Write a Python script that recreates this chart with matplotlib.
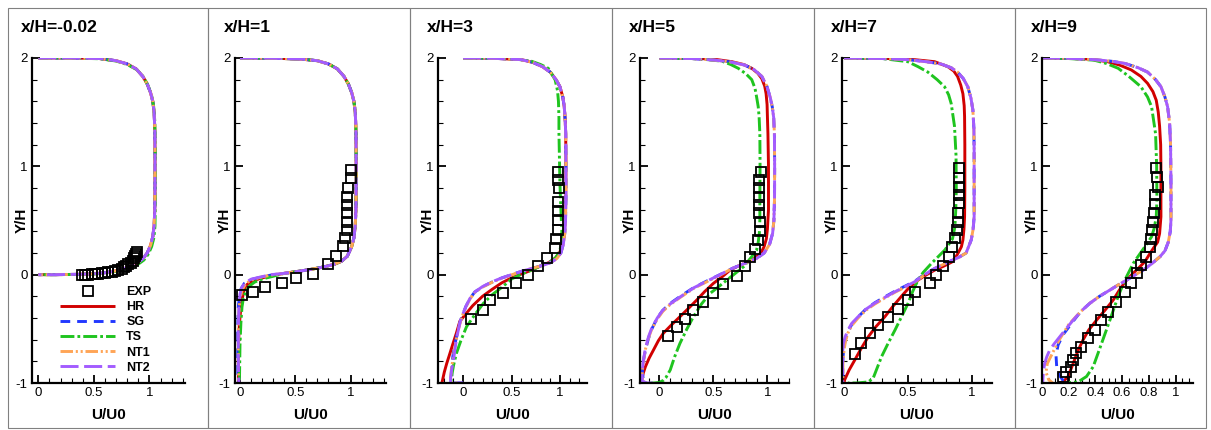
import numpy as np
import matplotlib
matplotlib.use("Agg")
import matplotlib.pyplot as plt
from matplotlib.ticker import MultipleLocator, FuncFormatter

plt.rcParams['font.family'] = ['Liberation Sans', 'DejaVu Sans']
plt.rcParams['lines.scale_dashes'] = False
plt.rcParams['axes.unicode_minus'] = False

titles = ['x/H=-0.02', 'x/H=1', 'x/H=3', 'x/H=5', 'x/H=7', 'x/H=9']
models = ['HR', 'SG', 'TS', 'NT1', 'NT2']

# ---- x/H=-0.02 : (U/U0, Y/H) points, all models nearly identical ----
s1_base = [(0, 2.0), (0.3, 2.0), (0.55, 1.995), (0.7, 1.975), (0.8, 1.945), (0.88, 1.9),
           (0.94, 1.83), (0.98, 1.76), (1.01, 1.68), (1.03, 1.6), (1.042, 1.5), (1.048, 1.35),
           (1.05, 1.1), (1.05, 0.8), (1.048, 0.6), (1.042, 0.45), (1.03, 0.35), (1.01, 0.27),
           (0.98, 0.2), (0.94, 0.145), (0.88, 0.1), (0.8, 0.065), (0.7, 0.035), (0.6, 0.018),
           (0.5, 0.008), (0.35, 0.003), (0.15, 0.0), (0.0, 0.0)]
s1_ts = [(0, 2.0), (0.3, 2.0), (0.55, 1.993), (0.7, 1.972), (0.8, 1.94), (0.89, 1.89),
         (0.95, 1.82), (0.99, 1.74), (1.02, 1.65), (1.038, 1.55), (1.048, 1.42), (1.052, 1.2),
         (1.052, 0.8), (1.052, 0.6), (1.05, 0.45), (1.04, 0.34), (1.02, 0.26), (0.99, 0.19),
         (0.95, 0.135), (0.89, 0.09), (0.8, 0.058), (0.7, 0.03), (0.6, 0.015), (0.5, 0.006),
         (0.35, 0.002), (0.15, 0.0), (0.0, 0.0)]
s1_exp_u = [0.39, 0.42, 0.45, 0.48, 0.51, 0.54, 0.57, 0.60, 0.63, 0.66, 0.69, 0.72, 0.75,
            0.77, 0.79, 0.81, 0.83, 0.85, 0.86, 0.87, 0.88, 0.89]
s1_exp_y = [0.0, 0.0, 0.0, 0.002, 0.005, 0.008, 0.012, 0.016, 0.02, 0.027, 0.035, 0.045,
            0.055, 0.068, 0.08, 0.095, 0.11, 0.13, 0.15, 0.17, 0.19, 0.21]

# ---- x/H=1 ----
s2_top = [(0, 2.0), (0.3, 1.998), (0.55, 1.99), (0.7, 1.975), (0.8, 1.945), (0.88, 1.9),
          (0.94, 1.83), (0.98, 1.76), (1.01, 1.68), (1.03, 1.6), (1.042, 1.5), (1.048, 1.35),
          (1.05, 1.1), (1.05, 0.8), (1.048, 0.6), (1.042, 0.45), (1.03, 0.34), (1.01, 0.26),
          (0.97, 0.17), (0.92, 0.125), (0.85, 0.095), (0.75, 0.07), (0.62, 0.045), (0.5, 0.027),
          (0.4, 0.012)]
s2_hr = s2_top + [(0.3, -0.005), (0.22, -0.025), (0.15, -0.045), (0.1, -0.065), (0.065, -0.09),
                  (0.045, -0.12), (0.03, -0.17), (0.015, -0.26), (0.006, -0.33), (-0.005, -0.45),
                  (-0.012, -0.6), (-0.015, -0.8), (-0.012, -1.0)]
s2_sg = s2_top + [(0.3, 0.0), (0.2, -0.02), (0.1, -0.045), (0.04, -0.08), (0.01, -0.13),
                  (-0.005, -0.2), (-0.015, -0.3), (-0.02, -0.5), (-0.02, -0.8), (-0.018, -1.0)]
s2_ts = s2_top + [(0.3, -0.015), (0.2, -0.04), (0.13, -0.07), (0.08, -0.11), (0.05, -0.16),
                  (0.03, -0.22), (0.018, -0.3), (0.008, -0.45), (0.0, -0.65), (-0.005, -1.0)]
s2_nt1 = s2_top + [(0.3, 0.0), (0.2, -0.02), (0.1, -0.05), (0.05, -0.085), (0.02, -0.14),
                   (0.0, -0.22), (-0.01, -0.35), (-0.015, -0.55), (-0.015, -0.8), (-0.012, -1.0)]
s2_nt2 = s2_top + [(0.3, 0.002), (0.2, -0.018), (0.1, -0.042), (0.045, -0.075), (0.015, -0.12),
                   (0.0, -0.18), (-0.01, -0.3), (-0.015, -0.5), (-0.015, -0.8), (-0.01, -1.0)]
s2_exp_u = [1.0, 1.0, 0.98, 0.97, 0.97, 0.97, 0.97, 0.97, 0.95, 0.93, 0.87, 0.8, 0.66,
            0.51, 0.38, 0.23, 0.12, 0.02]
s2_exp_y = [0.966, 0.89, 0.797, 0.72, 0.643, 0.566, 0.489, 0.412, 0.336, 0.26, 0.17, 0.095,
            0.003, -0.034, -0.074, -0.117, -0.157, -0.19]

# ---- x/H=3 ----
s3_top = [(0, 2.0), (0.3, 1.998), (0.6, 1.985), (0.72, 1.96), (0.82, 1.92), (0.9, 1.87),
          (0.96, 1.8), (1.0, 1.735), (1.03, 1.64), (1.045, 1.55), (1.055, 1.42), (1.06, 1.3),
          (1.062, 1.0), (1.062, 0.7), (1.058, 0.5), (1.05, 0.38), (1.035, 0.28), (1.01, 0.2),
          (0.97, 0.15), (0.9, 0.11), (0.8, 0.08), (0.7, 0.055), (0.6, 0.03)]
s3_hr = [(0, 2.0), (0.3, 1.998), (0.6, 1.985), (0.72, 1.96), (0.82, 1.92), (0.9, 1.87),
         (0.96, 1.8), (1.0, 1.735), (1.03, 1.64), (1.045, 1.55), (1.055, 1.42), (1.06, 1.3),
         (1.062, 1.0), (1.06, 0.7), (1.055, 0.5), (1.045, 0.38), (1.03, 0.29), (1.0, 0.21),
         (0.95, 0.15), (0.88, 0.11), (0.8, 0.08), (0.71, 0.043), (0.6, 0.005), (0.5, -0.03),
         (0.4, -0.075), (0.3, -0.135), (0.2, -0.2), (0.1, -0.285), (0.03, -0.36),
         (-0.034, -0.43), (-0.07, -0.54), (-0.11, -0.65), (-0.145, -0.75), (-0.17, -0.82),
         (-0.195, -0.9), (-0.217, -0.99), (-0.22, -1.0)]
s3_sg = s3_top + [(0.5, 0.0), (0.4, -0.03), (0.3, -0.068), (0.2, -0.112), (0.12, -0.16),
                  (0.07, -0.22), (0.03, -0.29), (0.0, -0.355), (-0.03, -0.43), (-0.055, -0.52),
                  (-0.08, -0.62), (-0.1, -0.72), (-0.118, -0.82), (-0.12, -0.9), (-0.115, -0.96),
                  (-0.1, -1.0), (0.0, -1.0)]
s3_ts = [(0, 2.0), (0.3, 1.998), (0.55, 1.99), (0.707, 1.97), (0.8, 1.94), (0.88, 1.905),
         (0.95, 1.8), (0.975, 1.7), (0.985, 1.6), (0.99, 1.45), (0.99, 1.31), (1.0, 0.85),
         (1.01, 0.6), (1.02, 0.4), (1.015, 0.3), (1.0, 0.22), (0.96, 0.16), (0.9, 0.12),
         (0.8, 0.08), (0.7, 0.04), (0.62, 0.012), (0.5, -0.04), (0.41, -0.11), (0.3, -0.185),
         (0.21, -0.264), (0.12, -0.37), (0.035, -0.48), (-0.02, -0.6), (-0.07, -0.727),
         (-0.1, -0.84), (-0.12, -0.94), (-0.128, -1.0)]
s3_nt1 = s3_top + [(0.5, -0.002), (0.4, -0.033), (0.3, -0.07), (0.2, -0.115), (0.12, -0.165),
                   (0.07, -0.225), (0.03, -0.295), (0.0, -0.36), (-0.03, -0.44), (-0.055, -0.53),
                   (-0.08, -0.64), (-0.1, -0.75), (-0.12, -0.86), (-0.13, -0.95), (-0.12, -1.0),
                   (-0.02, -1.0)]
s3_nt2 = s3_top + [(0.5, 0.0), (0.4, -0.03), (0.3, -0.065), (0.2, -0.11), (0.12, -0.16),
                   (0.07, -0.22), (0.03, -0.29), (0.0, -0.357), (-0.03, -0.43), (-0.05, -0.51),
                   (-0.07, -0.6), (-0.086, -0.695), (-0.1, -0.79), (-0.12, -0.88), (-0.13, -0.95),
                   (-0.13, -0.99), (-0.06, -1.0), (0.0, -1.0)]
s3_exp_u = [0.976, 0.983, 0.99, 0.985, 0.985, 0.985, 0.985, 0.955, 0.945, 0.87, 0.77, 0.67,
            0.548, 0.413, 0.28, 0.204, 0.083]
s3_exp_y = [0.95, 0.874, 0.797, 0.674, 0.59, 0.505, 0.412, 0.326, 0.243, 0.15, 0.077, 0.0,
            -0.08, -0.169, -0.234, -0.326, -0.41]

# ---- x/H=5 ----
s5_top = [(0, 2.0), (0.3, 1.995), (0.515, 1.98), (0.65, 1.965), (0.79, 1.935), (0.88, 1.89),
          (0.948, 1.83), (0.995, 1.74), (1.025, 1.64), (1.045, 1.55), (1.058, 1.45),
          (1.065, 1.3), (1.067, 1.0), (1.066, 0.7), (1.06, 0.5), (1.048, 0.38), (1.02, 0.28),
          (0.97, 0.2), (0.9, 0.15), (0.79, 0.105), (0.68, 0.06)]
s5_hr = [(0, 2.0), (0.3, 1.997), (0.5, 1.99), (0.67, 1.966), (0.78, 1.94), (0.855, 1.905),
         (0.91, 1.86), (0.948, 1.81), (0.975, 1.74), (0.988, 1.67), (0.997, 1.57), (1.0, 1.46),
         (1.005, 1.3), (1.01, 1.0), (1.01, 0.6), (1.0, 0.42), (0.99, 0.33), (0.97, 0.26),
         (0.94, 0.2), (0.88, 0.15), (0.8, 0.11), (0.72, 0.075), (0.655, 0.043), (0.58, -0.02),
         (0.5, -0.08), (0.42, -0.155), (0.346, -0.234), (0.27, -0.31), (0.19, -0.388),
         (0.11, -0.465), (0.037, -0.54), (-0.01, -0.61), (-0.055, -0.695), (-0.095, -0.77),
         (-0.13, -0.85), (-0.15, -0.91), (-0.163, -0.97), (-0.165, -1.0)]
s5_sg = s5_top + [(0.56, 0.0), (0.44, -0.058), (0.32, -0.118), (0.2, -0.195), (0.1, -0.265),
                  (0.03, -0.33), (-0.02, -0.4), (-0.07, -0.5), (-0.105, -0.6), (-0.13, -0.7),
                  (-0.15, -0.8), (-0.158, -0.9), (-0.15, -0.97), (-0.12, -1.0)]
s5_ts = [(0, 2.0), (0.3, 1.995), (0.45, 1.985), (0.58, 1.97), (0.66, 1.94), (0.73, 1.905),
         (0.8, 1.855), (0.855, 1.8), (0.885, 1.72), (0.9, 1.64), (0.915, 1.55), (0.923, 1.46),
         (0.93, 1.3), (0.932, 1.0), (0.93, 0.69), (0.93, 0.5), (0.925, 0.38), (0.915, 0.3),
         (0.9, 0.227), (0.855, 0.166), (0.78, 0.074), (0.7, 0.01), (0.624, -0.05),
         (0.55, -0.11), (0.47, -0.172), (0.39, -0.27), (0.315, -0.388), (0.25, -0.51),
         (0.19, -0.634), (0.14, -0.76), (0.1, -0.88), (0.06, -0.95), (0.037, -0.975),
         (0.0, -0.995), (-0.05, -1.0), (-0.17, -1.0)]
s5_nt1 = s5_top + [(0.56, -0.005), (0.44, -0.065), (0.32, -0.125), (0.2, -0.205), (0.1, -0.275),
                   (0.03, -0.34), (-0.02, -0.41), (-0.07, -0.5), (-0.1, -0.58), (-0.13, -0.69),
                   (-0.15, -0.81), (-0.16, -0.91), (-0.16, -0.98), (-0.13, -1.0)]
s5_nt2 = s5_top + [(0.56, 0.0), (0.44, -0.06), (0.32, -0.12), (0.2, -0.2), (0.1, -0.27),
                   (0.03, -0.33), (-0.02, -0.4), (-0.07, -0.49), (-0.1, -0.57), (-0.13, -0.68),
                   (-0.15, -0.8), (-0.16, -0.9), (-0.16, -0.98), (-0.12, -1.0), (-0.05, -1.0)]
s5_exp_u = [0.942, 0.925, 0.925, 0.925, 0.925, 0.925, 0.932, 0.932, 0.91, 0.886, 0.84, 0.794,
            0.715, 0.593, 0.494, 0.408, 0.315, 0.238, 0.16, 0.077]
s5_exp_y = [0.95, 0.874, 0.797, 0.72, 0.643, 0.566, 0.489, 0.406, 0.32, 0.234, 0.16, 0.08,
            -0.015, -0.09, -0.17, -0.25, -0.326, -0.412, -0.486, -0.566]

# ---- x/H=7 ----
s7_top = [(0, 2.0), (0.3, 1.995), (0.5, 1.985), (0.65, 1.965), (0.76, 1.945), (0.84, 1.91),
          (0.89, 1.87), (0.935, 1.81), (0.97, 1.735), (0.995, 1.63), (1.01, 1.52),
          (1.018, 1.35), (1.02, 1.15), (1.02, 0.8), (1.02, 0.535), (1.012, 0.42),
          (0.997, 0.32), (0.957, 0.2), (0.9, 0.16), (0.843, 0.13), (0.78, 0.095), (0.712, 0.058)]
s7_hr = [(0, 2.0), (0.3, 1.997), (0.55, 1.985), (0.71, 1.966), (0.814, 1.92), (0.86, 1.88),
         (0.89, 1.83), (0.915, 1.75), (0.932, 1.67), (0.942, 1.56), (0.945, 1.46),
         (0.947, 1.2), (0.947, 0.8), (0.945, 0.535), (0.94, 0.42), (0.932, 0.32), (0.92, 0.258),
         (0.9, 0.212), (0.87, 0.15), (0.843, 0.115), (0.78, 0.078), (0.712, 0.043),
         (0.64, -0.005), (0.58, -0.05), (0.51, -0.12), (0.45, -0.2), (0.385, -0.29),
         (0.32, -0.388), (0.25, -0.48), (0.19, -0.573), (0.135, -0.68), (0.084, -0.788),
         (0.04, -0.88), (0.005, -0.97), (0.0, -1.0)]
s7_sg = s7_top + [(0.63, 0.002), (0.555, -0.06), (0.48, -0.105), (0.4, -0.152), (0.32, -0.205),
                  (0.24, -0.26), (0.17, -0.32), (0.11, -0.39), (0.06, -0.46), (0.03, -0.53),
                  (0.01, -0.6), (-0.002, -0.68), (-0.008, -0.76), (-0.01, -0.88), (-0.01, -1.0)]
s7_ts = [(0, 2.0), (0.3, 1.995), (0.5, 1.966), (0.58, 1.92), (0.657, 1.87), (0.73, 1.8),
         (0.788, 1.735), (0.82, 1.66), (0.84, 1.58), (0.866, 1.37), (0.878, 1.1), (0.88, 0.8),
         (0.876, 0.6), (0.869, 0.44), (0.85, 0.33), (0.79, 0.227), (0.686, 0.105),
         (0.62, 0.02), (0.58, -0.05), (0.54, -0.15), (0.502, -0.264), (0.45, -0.39),
         (0.4, -0.51), (0.347, -0.63), (0.294, -0.757), (0.26, -0.86), (0.228, -0.957),
         (0.19, -0.99), (0.1, -1.0), (0.03, -1.0)]
s7_nt1 = s7_top + [(0.63, -0.003), (0.555, -0.068), (0.48, -0.115), (0.4, -0.162),
                   (0.32, -0.215), (0.24, -0.272), (0.17, -0.33), (0.11, -0.4), (0.06, -0.47),
                   (0.03, -0.54), (0.01, -0.62), (0.0, -0.7), (-0.008, -0.8), (-0.01, -1.0)]
s7_nt2 = s7_top + [(0.63, 0.0), (0.555, -0.065), (0.48, -0.11), (0.4, -0.157), (0.32, -0.21),
                   (0.24, -0.264), (0.17, -0.32), (0.11, -0.388), (0.06, -0.45), (0.031, -0.51),
                   (0.01, -0.57), (-0.005, -0.634), (-0.01, -0.7), (-0.012, -0.85), (-0.01, -1.0)]
s7_exp_u = [0.898, 0.898, 0.898, 0.898, 0.898, 0.892, 0.892, 0.885, 0.866, 0.845, 0.819,
            0.775, 0.722, 0.67, 0.553, 0.5, 0.42, 0.343, 0.265, 0.2, 0.134, 0.082]
s7_exp_y = [0.98, 0.89, 0.812, 0.735, 0.66, 0.566, 0.489, 0.412, 0.336, 0.253, 0.166, 0.08,
            -0.003, -0.074, -0.157, -0.234, -0.32, -0.388, -0.465, -0.54, -0.628, -0.73]

# ---- x/H=9 ----
s9_top = [(0, 2.0), (0.2, 1.997), (0.39, 1.985), (0.52, 1.97), (0.62, 1.95), (0.72, 1.91),
          (0.79, 1.87), (0.85, 1.8), (0.89, 1.735), (0.92, 1.64), (0.94, 1.55), (0.955, 1.4),
          (0.962, 1.2), (0.965, 0.85), (0.965, 0.5), (0.96, 0.4), (0.945, 0.3), (0.92, 0.22),
          (0.883, 0.166), (0.82, 0.1), (0.758, 0.043), (0.7, 0.0), (0.633, -0.05),
          (0.57, -0.095), (0.508, -0.142), (0.43, -0.2), (0.358, -0.264), (0.29, -0.34)]
s9_hr = [(0, 2.0), (0.2, 1.997), (0.35, 1.99), (0.49, 1.966), (0.58, 1.935), (0.668, 1.89),
         (0.74, 1.83), (0.79, 1.766), (0.83, 1.69), (0.855, 1.61), (0.87, 1.5), (0.88, 1.37),
         (0.888, 1.2), (0.89, 1.0), (0.89, 0.535), (0.88, 0.38), (0.865, 0.3), (0.833, 0.243),
         (0.8, 0.18), (0.77, 0.12), (0.733, 0.074), (0.68, 0.01), (0.633, -0.05),
         (0.58, -0.14), (0.533, -0.234), (0.47, -0.33), (0.408, -0.42), (0.35, -0.51),
         (0.308, -0.6), (0.27, -0.7), (0.233, -0.82), (0.195, -0.94), (0.158, -0.99),
         (0.12, -1.0)]
s9_sg = s9_top + [(0.233, -0.43), (0.16, -0.55), (0.12, -0.65), (0.105, -0.75), (0.11, -0.85),
                  (0.13, -0.93), (0.16, -0.98), (0.18, -1.0)]
s9_ts = [(0, 2.0), (0.2, 1.995), (0.39, 1.98), (0.48, 1.95), (0.57, 1.905), (0.65, 1.83),
         (0.74, 1.735), (0.79, 1.64), (0.82, 1.55), (0.85, 1.3), (0.858, 1.0), (0.86, 0.69),
         (0.855, 0.535), (0.84, 0.43), (0.82, 0.35), (0.77, 0.258), (0.683, 0.105),
         (0.62, -0.05), (0.57, -0.2), (0.508, -0.42), (0.446, -0.634), (0.383, -0.85),
         (0.333, -0.94), (0.27, -0.99), (0.17, -1.0)]
s9_nt1 = s9_top + [(0.2, -0.46), (0.13, -0.6), (0.08, -0.72), (0.04, -0.82), (0.03, -0.9),
                   (0.05, -0.97), (0.08, -1.0)]
s9_nt2 = s9_top + [(0.233, -0.42), (0.18, -0.5), (0.133, -0.573), (0.09, -0.64),
                   (0.058, -0.695), (0.035, -0.76), (0.02, -0.82), (0.01, -0.9), (0.005, -1.0)]
s9_exp_u = [0.855, 0.863, 0.868, 0.843, 0.843, 0.838, 0.83, 0.823, 0.818, 0.805, 0.78, 0.743,
            0.713, 0.668, 0.618, 0.555, 0.493, 0.443, 0.393, 0.343, 0.293, 0.255, 0.23, 0.218,
            0.18, 0.155]
s9_exp_y = [0.98, 0.905, 0.812, 0.735, 0.652, 0.566, 0.489, 0.412, 0.326, 0.253, 0.166, 0.09,
            0.012, -0.08, -0.157, -0.25, -0.342, -0.42, -0.51, -0.588, -0.665, -0.727, -0.788,
            -0.85, -0.896, -0.94]

curves = [
    [s1_base, s1_base, s1_ts, s1_base, s1_base],
    [s2_hr, s2_sg, s2_ts, s2_nt1, s2_nt2],
    [s3_hr, s3_sg, s3_ts, s3_nt1, s3_nt2],
    [s5_hr, s5_sg, s5_ts, s5_nt1, s5_nt2],
    [s7_hr, s7_sg, s7_ts, s7_nt1, s7_nt2],
    [s9_hr, s9_sg, s9_ts, s9_nt1, s9_nt2],
]
exp_u = [s1_exp_u, s2_exp_u, s3_exp_u, s5_exp_u, s7_exp_u, s9_exp_u]
exp_y = [s1_exp_y, s2_exp_y, s3_exp_y, s5_exp_y, s7_exp_y, s9_exp_y]

# styles
colors = ['#d10000', '#2238ff', '#1fc41f', '#ffa556', '#a35cff']
dashes = [None, (7, 5), (10, 2.2, 2, 2.2), (9, 2, 1.5, 2, 1.5, 2), (13, 4)]

# layout (pixels)
W, H = 1211, 430
ax_px = [(32, 185), (235, 386), (438, 587), (640, 789), (842, 992), (1042, 1193)]
xlims = [(-0.057, 1.32), (-0.045, 1.32), (-0.26, 1.28), (-0.18, 1.2), (-0.016, 1.16), (0, 1.13)]
xmajor = [0.5, 0.5, 0.5, 0.5, 0.5, 0.2]
xminor = [0.1, 0.1, 0.1, 0.1, 0.1, 0.05]
frame_edges = [8, 208, 410, 612, 814, 1015, 1206]
ax_bottom, ax_top = 383, 58

fig = plt.figure(figsize=(W / 100, H / 100), dpi=100)

for x0, x1 in zip(frame_edges[:-1], frame_edges[1:]):
    fig.add_artist(plt.Rectangle((x0 / W, 2 / H), (x1 - x0) / W, 420 / H,
                                 transform=fig.transFigure, fill=False,
                                 ec='#808080', lw=0.8))

fmt = FuncFormatter(lambda v, p: '0' if abs(v) < 1e-9 else f'{v:g}')

handles = []
for i in range(6):
    l, r = ax_px[i]
    ax = fig.add_axes([l / W, (H - ax_bottom) / H, (r - l) / W, (ax_bottom - ax_top) / H])
    for j, pts in enumerate(curves[i]):
        u, y = np.array(pts).T
        kw = dict(color=colors[j], lw=2.1, label=models[j], solid_capstyle='butt')
        if dashes[j] is not None:
            kw['dashes'] = dashes[j]
        ln, = ax.plot(u, y, **kw)
        if i == 0:
            handles.append(ln)
    ex, = ax.plot(exp_u[i], exp_y[i], ls='none', marker='s', ms=6.5, mfc='none',
                  mec='black', mew=1.3, zorder=5, label='EXP')
    if i == 0:
        handles.insert(0, ex)

    ax.set_xlim(*xlims[i])
    ax.set_ylim(-1, 2)
    for s in ['top', 'right']:
        ax.spines[s].set_visible(False)
    for s in ['left', 'bottom']:
        ax.spines[s].set_linewidth(1.6)
    ax.xaxis.set_major_locator(MultipleLocator(xmajor[i]))
    ax.xaxis.set_minor_locator(MultipleLocator(xminor[i]))
    ax.yaxis.set_major_locator(MultipleLocator(1))
    ax.yaxis.set_minor_locator(MultipleLocator(0.2))
    ax.xaxis.set_major_formatter(fmt)
    ax.yaxis.set_major_formatter(fmt)
    ax.tick_params(which='major', direction='in', length=6, width=1.3, labelsize=9.5, pad=3)
    ax.tick_params(which='minor', direction='in', length=3.5, width=0.8)
    ax.set_facecolor('none')

    ax.text(-10 / (r - l), 0.5, 'Y/H', transform=ax.transAxes, rotation=90,
            ha='center', va='center', fontsize=11, fontweight='bold')
    ax.text(0.5, -32 / (ax_bottom - ax_top), 'U/U0', transform=ax.transAxes,
            ha='center', va='center', fontsize=11, fontweight='bold')
    fig.text((l - 11) / W, 1 - 28 / H, titles[i], ha='left', va='center',
             fontsize=12.5, fontweight='bold')

    if i == 0:
        ax.legend(handles, ['EXP'] + models, loc='upper left',
                  bbox_to_anchor=(60 / W, 1 - 286 / H), bbox_transform=fig.transFigure,
                  frameon=False, borderpad=0, borderaxespad=0, handlelength=4.4,
                  handletextpad=0.9, labelspacing=0.25, numpoints=1,
                  prop={'weight': 'bold', 'size': 9})

fig.savefig('out.png', dpi=100, facecolor='white')
